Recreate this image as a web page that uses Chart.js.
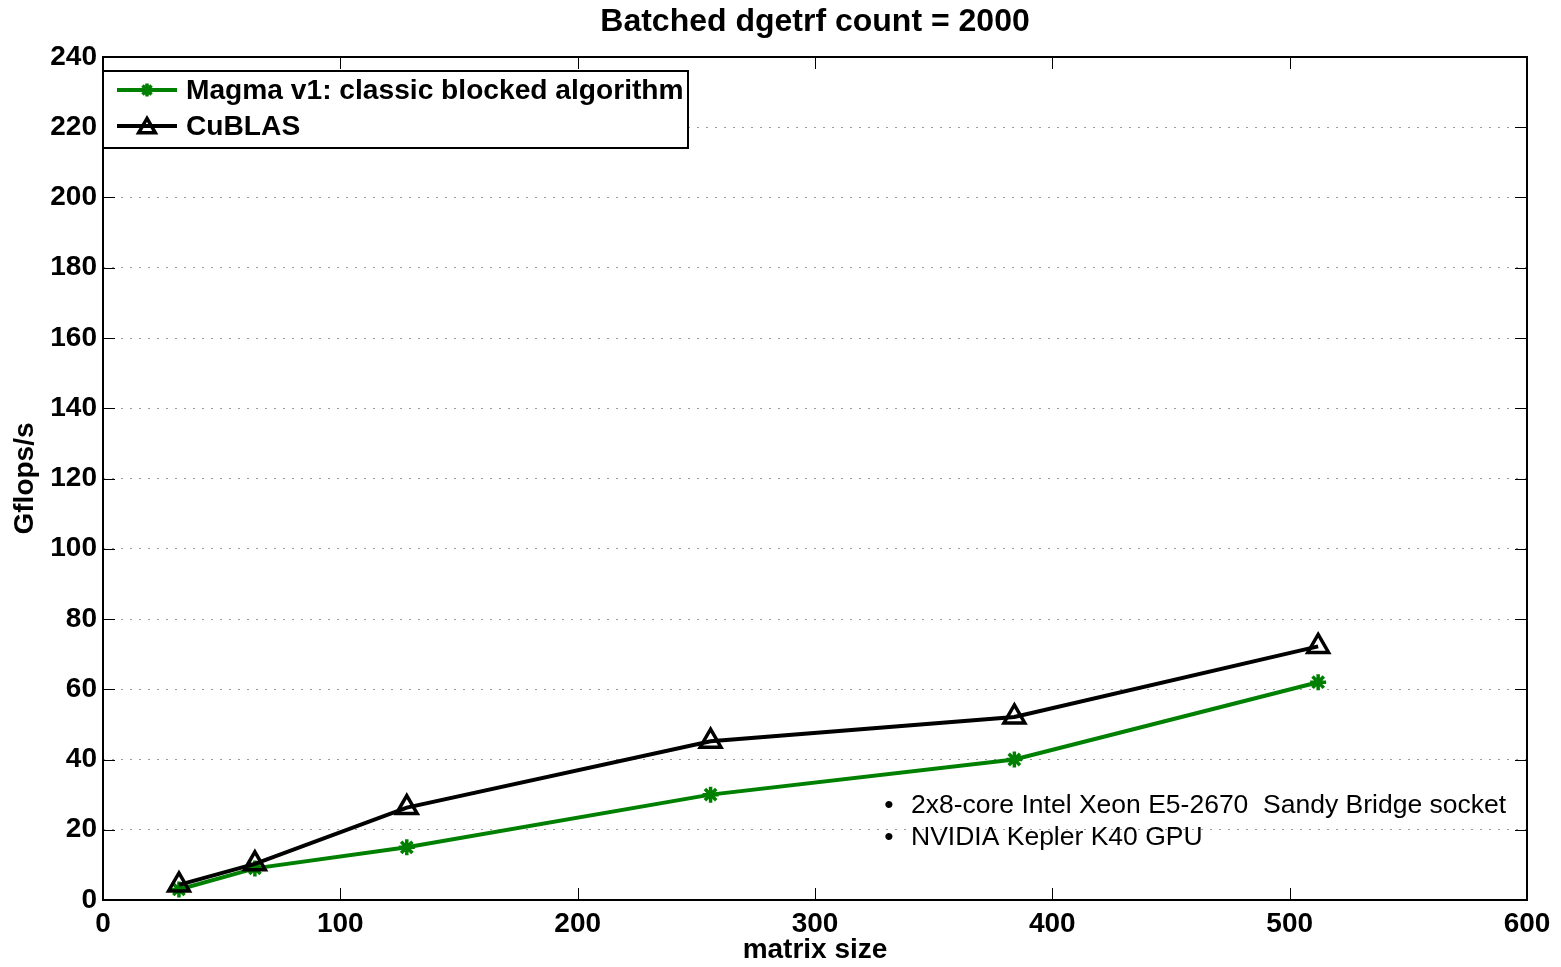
<!DOCTYPE html>
<html>
<head>
<meta charset="utf-8">
<script src="https://cdn.jsdelivr.net/npm/chart.js@4.4.1/dist/chart.umd.min.js"></script>
<style>
  html, body { margin: 0; padding: 0; background: #fff; }
  #wrap { width: 1561px; height: 967px; }
</style>
</head>
<body>
<div id="wrap"><canvas id="chart" width="1561" height="967"></canvas></div>
<script>
'use strict';

// matrix sizes on the x axis
var matrixSizes = [32, 64, 128, 256, 384, 512];
// Gflops/s
var magmaValues = [3, 9, 15, 30, 40, 62];
var cublasValues = [4.3, 10.3, 26.3, 45.2, 52.1, 72.2];

var seriesNames = ['Magma v1: classic blocked algorithm', 'CuBLAS'];
var chartTitle = 'Batched dgetrf count = 2000';
var noteLines = ['2x8-core Intel Xeon E5-2670  Sandy Bridge socket', 'NVIDIA Kepler K40 GPU'];

var FONT = '"Liberation Sans", Arial, Helvetica, sans-serif';
var GREEN = '#008000';

function toPoints(xs, ys) {
    return xs.map((x, i) => ({x: x, y: ys[i]}));
}

// title, frame, inside tick marks, legend box and the note text
var decorations = {
    id: 'decorations',
    afterDatasetsDraw(chart) {
        var ctx = chart.ctx;
        var a = chart.chartArea;
        var xs = chart.scales.x, ys = chart.scales.y;
        ctx.save();

        // title centred over the plot box
        ctx.fillStyle = '#000';
        ctx.font = 'bold 32px ' + FONT;
        ctx.textAlign = 'center';
        ctx.textBaseline = 'middle';
        ctx.fillText(chartTitle, (a.left + a.right) / 2, 22);

        // inside tick marks
        ctx.strokeStyle = '#000';
        ctx.lineWidth = 1;
        var tl = 12;
        xs.ticks.forEach(t => {
            var px = Math.round(xs.getPixelForValue(t.value)) + 0.5;
            ctx.beginPath();
            ctx.moveTo(px, a.bottom); ctx.lineTo(px, a.bottom - tl);
            ctx.moveTo(px, a.top); ctx.lineTo(px, a.top + tl);
            ctx.stroke();
        });
        ys.ticks.forEach(t => {
            var py = Math.round(ys.getPixelForValue(t.value)) + 0.5;
            ctx.beginPath();
            ctx.moveTo(a.left, py); ctx.lineTo(a.left + tl, py);
            ctx.moveTo(a.right, py); ctx.lineTo(a.right - tl, py);
            ctx.stroke();
        });

        // frame
        ctx.lineWidth = 2;
        ctx.strokeRect(a.left, a.top, a.right - a.left, a.bottom - a.top);

        // legend box
        var bx = a.left, by = 71, bw = 688 - a.left, bh = 77;
        ctx.fillStyle = '#fff';
        ctx.fillRect(bx, by, bw, bh);
        ctx.strokeStyle = '#000';
        ctx.lineWidth = 2;
        ctx.strokeRect(bx, by, bw, bh);

        var fs = 26;
        ctx.font = 'bold ' + fs + 'px ' + FONT;
        var w = ctx.measureText(seriesNames[0]).width;
        fs = fs * 498 / w;
        ctx.font = 'bold ' + fs + 'px ' + FONT;
        ctx.textAlign = 'left';

        chart.data.datasets.forEach((ds, i) => {
            var ly = by + 19 + i * 36;
            ctx.strokeStyle = ds.borderColor;
            ctx.lineWidth = ds.borderWidth;
            ctx.beginPath();
            ctx.moveTo(bx + 14, ly); ctx.lineTo(bx + 74, ly);
            ctx.stroke();
            ctx.fillStyle = 'rgba(0,0,0,0)';
            ctx.strokeStyle = ds.pointBorderColor;
            ctx.lineWidth = ds.pointBorderWidth;
            Chart.helpers.drawPoint(ctx, {
                pointStyle: ds.pointStyle,
                radius: ds.pointRadius * 0.8,
                borderWidth: ds.pointBorderWidth
            }, bx + 44, ly + (ds.pointStyle === 'triangle' ? 2 : 0));
            ctx.fillStyle = '#000';
            ctx.fillText(ds.label, bx + 83, ly + 1);
        });

        // note text
        ctx.font = '26.5px ' + FONT;
        ctx.fillStyle = '#000';
        noteLines.forEach((line, i) => {
            var ny = 806 + i * 32;
            ctx.textAlign = 'center';
            ctx.fillText('\u2022', 889, ny);
            ctx.textAlign = 'left';
            ctx.fillText(line, 911, ny);
        });

        ctx.restore();
    }
};

var canvas = document.getElementById('chart');
var chart = new Chart(canvas, {
    type: 'line',
    data: {
        datasets: [{
            label: seriesNames[0],
            data: toPoints(matrixSizes, magmaValues),
            borderColor: GREEN,
            backgroundColor: GREEN,
            borderWidth: 4,
            pointStyle: 'star',
            pointRadius: 8,
            pointBorderWidth: 3.5,
            pointBorderColor: GREEN,
            order: 2
        }, {
            label: seriesNames[1],
            data: toPoints(matrixSizes, cublasValues),
            borderColor: '#000',
            backgroundColor: 'rgba(0,0,0,0)',
            borderWidth: 4,
            pointStyle: 'triangle',
            pointRadius: 12,
            pointBorderWidth: 3.5,
            pointBorderColor: '#000',
            pointBackgroundColor: 'rgba(0,0,0,0)',
            order: 1
        }]
    },
    options: {
        responsive: false,
        animation: false,
        devicePixelRatio: 1,
        layout: { padding: { left: 0, right: 34, top: 57, bottom: 0 } },
        plugins: {
            legend: { display: false },
            tooltip: { enabled: false },
            title: { display: false }
        },
        scales: {
            x: {
                type: 'linear',
                min: 0,
                max: 600,
                afterFit: s => { s.height = 67; },
                ticks: {
                    stepSize: 100,
                    color: '#000',
                    padding: 7,
                    maxRotation: 0,
                    font: { family: FONT, size: 28, weight: 'bold' }
                },
                grid: { display: false, drawTicks: false },
                border: { display: false },
                title: {
                    display: true,
                    text: 'matrix size',
                    color: '#000',
                    padding: { top: 0, bottom: 0 },
                    font: { family: FONT, size: 28, weight: 'bold' }
                }
            },
            y: {
                min: 0,
                max: 240,
                afterFit: s => { s.width = 103; },
                ticks: {
                    stepSize: 20,
                    color: '#000',
                    padding: 6,
                    font: { family: FONT, size: 28, weight: 'bold' }
                },
                grid: {
                    color: '#9a9a9a',
                    lineWidth: 1,
                    drawTicks: false
                },
                border: { display: false, dash: [2, 7] },
                title: {
                    display: true,
                    text: 'Gflops/s',
                    color: '#000',
                    padding: { top: 8, bottom: 0 },
                    font: { family: FONT, size: 28, weight: 'bold' }
                }
            }
        }
    },
    plugins: [decorations]
});
</script>
</body>
</html>
